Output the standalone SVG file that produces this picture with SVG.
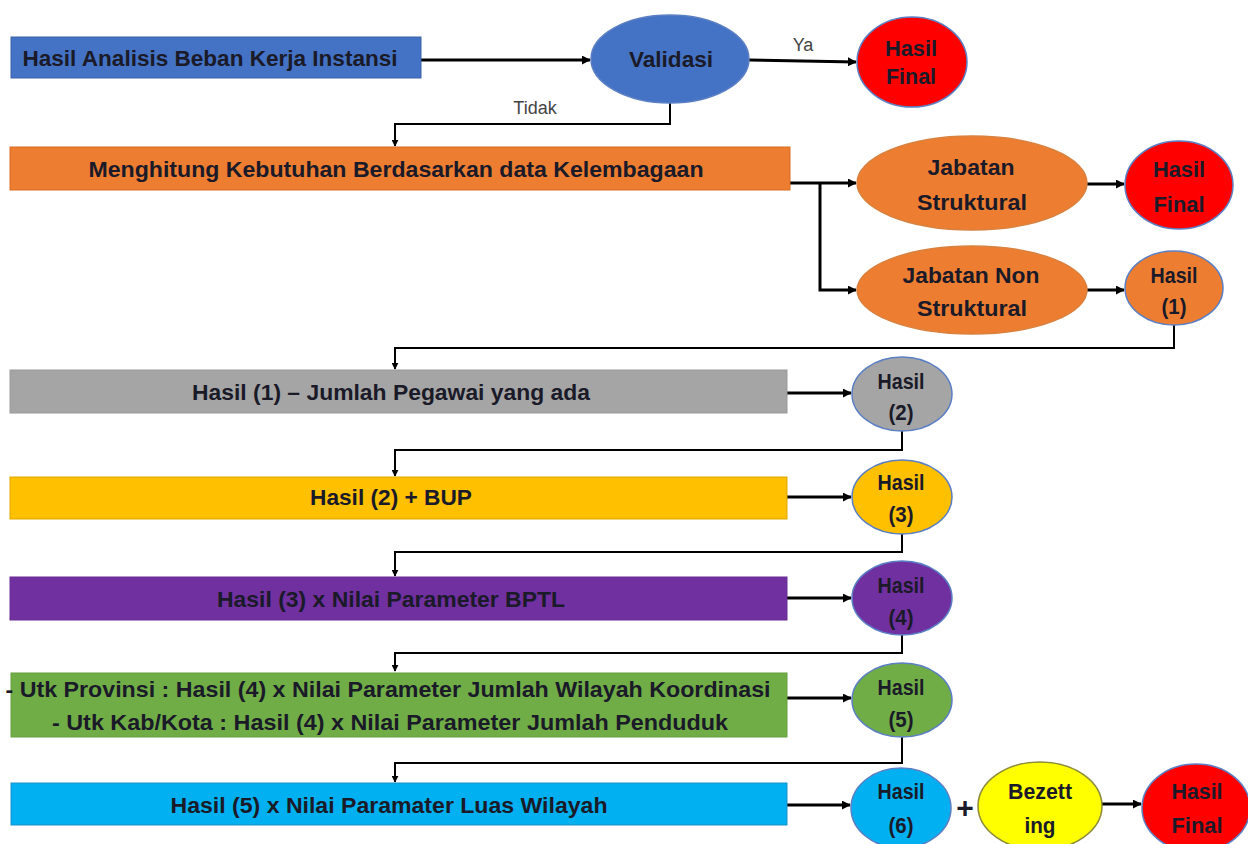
<svg xmlns="http://www.w3.org/2000/svg" width="1248" height="844" viewBox="0 0 1248 844">
<defs>
<marker id="ah" viewBox="0 0 10 10" refX="9" refY="5" markerWidth="9" markerHeight="9" markerUnits="userSpaceOnUse" orient="auto"><path d="M0,0 L10,5 L0,10 z" fill="#000"/></marker>
<marker id="ahs" viewBox="0 0 10 10" refX="9" refY="5" markerWidth="7" markerHeight="7" markerUnits="userSpaceOnUse" orient="auto"><path d="M0,0 L10,5 L0,10 z" fill="#000"/></marker>
<style>
text{font-family:"Liberation Sans",Arial,sans-serif;font-weight:bold;fill:#1a1a28;text-anchor:middle;dominant-baseline:central}
.lbl{font-weight:normal;fill:#444;font-size:18px}
.bx{font-size:22px}
.nd{font-size:22px}
.main{stroke:#000;stroke-width:3;fill:none;marker-end:url(#ah)}
.elb{stroke:#000;stroke-width:2;fill:none;marker-end:url(#ahs)}
.circ{stroke:#5b7fc4;stroke-width:1.5}
</style>
</defs>
<rect width="1248" height="844" fill="#fff"/>

<g id="connectors">
<path class="main" d="M420,60 H590"/>
<path class="main" d="M749,60 L856,62"/>
<path class="elb" d="M670,103 V124 H395 V146"/>
<path class="main" d="M790,183 H856"/>
<path class="main" d="M820,183 V290 H856"/>
<path class="main" d="M1087,184 H1124"/>
<path class="main" d="M1087,290 H1124"/>
<path class="elb" d="M1174,325 V348 H395 V369"/>
<path class="main" d="M787,393 H851"/>
<path class="elb" d="M902,431 V450 H395 V476"/>
<path class="main" d="M787,497 H851"/>
<path class="elb" d="M902,534 V552 H395 V576"/>
<path class="main" d="M787,598 H851"/>
<path class="elb" d="M902,635 V653 H395 V671"/>
<path class="main" d="M787,698 H851"/>
<path class="elb" d="M902,737 V763 H395 V782"/>
<path class="main" d="M787,805 H850"/>
<path class="main" d="M1102,804 H1141"/>
<text class="lbl" x="803" y="45">Ya</text>
<text class="lbl" x="535" y="108">Tidak</text>
</g>

<g id="n-analisis"><rect x="11" y="37" width="410" height="41" fill="#4472C4" stroke="#3a62a8"/><text class="bx" x="210" y="58" textLength="375" lengthAdjust="spacingAndGlyphs">Hasil Analisis Beban Kerja Instansi</text></g>
<g id="n-validasi"><ellipse cx="670" cy="59" rx="79" ry="44" fill="#4472C4" class="circ"/><text class="nd" x="671" y="59" textLength="84" lengthAdjust="spacingAndGlyphs">Validasi</text></g>
<g id="n-final1"><ellipse cx="912" cy="62" rx="55" ry="45" fill="#FF0000" class="circ"/><text class="nd" x="911" y="48" textLength="52" lengthAdjust="spacingAndGlyphs">Hasil</text><text class="nd" x="911" y="76" textLength="50" lengthAdjust="spacingAndGlyphs">Final</text></g>

<g id="n-kelembagaan"><rect x="10" y="147" width="780" height="43" fill="#ED7D31" stroke="#d66c25"/><text class="bx" x="396" y="169" textLength="615" lengthAdjust="spacingAndGlyphs">Menghitung Kebutuhan  Berdasarkan data Kelembagaan</text></g>
<g id="n-struktural"><ellipse cx="972" cy="183" rx="115" ry="47" fill="#ED7D31" stroke="#d9813e" stroke-width="1.5"/><text class="nd" x="971" y="167" textLength="87" lengthAdjust="spacingAndGlyphs">Jabatan</text><text class="nd" x="972" y="202" textLength="110" lengthAdjust="spacingAndGlyphs">Struktural</text></g>
<g id="n-final2"><ellipse cx="1179" cy="185" rx="54" ry="44" fill="#FF0000" class="circ"/><text class="nd" x="1179" y="169" textLength="52" lengthAdjust="spacingAndGlyphs">Hasil</text><text class="nd" x="1179" y="204" textLength="51" lengthAdjust="spacingAndGlyphs">Final</text></g>
<g id="n-nonstruktural"><ellipse cx="972" cy="290" rx="115" ry="44" fill="#ED7D31" stroke="#d9813e" stroke-width="1.5"/><text class="nd" x="971" y="275" textLength="137" lengthAdjust="spacingAndGlyphs">Jabatan Non</text><text class="nd" x="972" y="308" textLength="110" lengthAdjust="spacingAndGlyphs">Struktural</text></g>
<g id="n-hasil1"><ellipse cx="1174" cy="288" rx="49" ry="37" fill="#ED7D31" class="circ"/><text class="nd" x="1174" y="275" textLength="47" lengthAdjust="spacingAndGlyphs">Hasil</text><text class="nd" x="1174" y="306" textLength="25" lengthAdjust="spacingAndGlyphs">(1)</text></g>

<g id="n-pegawai"><rect x="10" y="370" width="777" height="43" fill="#A5A5A5" stroke="#999"/><text class="bx" x="391" y="392" textLength="398" lengthAdjust="spacingAndGlyphs">Hasil (1) – Jumlah Pegawai yang ada</text></g>
<g id="n-hasil2"><ellipse cx="902" cy="394" rx="50" ry="37" fill="#A5A5A5" class="circ"/><text class="nd" x="901" y="381" textLength="47" lengthAdjust="spacingAndGlyphs">Hasil</text><text class="nd" x="901" y="412" textLength="25" lengthAdjust="spacingAndGlyphs">(2)</text></g>

<g id="n-bup"><rect x="10" y="477" width="777" height="42" fill="#FFC000" stroke="#e0a800"/><text class="bx" x="391" y="497" textLength="162" lengthAdjust="spacingAndGlyphs">Hasil (2) + BUP</text></g>
<g id="n-hasil3"><ellipse cx="902" cy="497" rx="50" ry="37" fill="#FFC000" class="circ"/><text class="nd" x="901" y="482" textLength="47" lengthAdjust="spacingAndGlyphs">Hasil</text><text class="nd" x="901" y="514" textLength="25" lengthAdjust="spacingAndGlyphs">(3)</text></g>

<g id="n-bptl"><rect x="10" y="577" width="777" height="43" fill="#7030A0" stroke="#6a2c96"/><text class="bx" x="391" y="599" textLength="348" lengthAdjust="spacingAndGlyphs">Hasil (3) x Nilai Parameter BPTL</text></g>
<g id="n-hasil4"><ellipse cx="902" cy="598" rx="50" ry="37" fill="#7030A0" class="circ"/><text class="nd" x="901" y="585" textLength="47" lengthAdjust="spacingAndGlyphs">Hasil</text><text class="nd" x="901" y="617" textLength="25" lengthAdjust="spacingAndGlyphs">(4)</text></g>

<g id="n-wilayah"><rect x="11" y="673" width="776" height="64" fill="#70AD47" stroke="#64a03e"/><text class="bx" x="388" y="689" textLength="765" lengthAdjust="spacingAndGlyphs">- Utk Provinsi : Hasil (4) x Nilai Parameter Jumlah Wilayah Koordinasi</text><text class="bx" x="390" y="722" textLength="676" lengthAdjust="spacingAndGlyphs">- Utk Kab/Kota : Hasil (4) x Nilai Parameter Jumlah Penduduk</text></g>
<g id="n-hasil5"><ellipse cx="902" cy="700" rx="50" ry="37" fill="#70AD47" class="circ"/><text class="nd" x="901" y="687" textLength="47" lengthAdjust="spacingAndGlyphs">Hasil</text><text class="nd" x="901" y="719" textLength="25" lengthAdjust="spacingAndGlyphs">(5)</text></g>

<g id="n-luas"><rect x="11" y="783" width="776" height="42" fill="#00B0F0" stroke="#1a8fc8"/><text class="bx" x="389" y="805" textLength="437" lengthAdjust="spacingAndGlyphs">Hasil (5) x Nilai Paramater Luas Wilayah</text></g>
<g id="n-hasil6"><ellipse cx="901" cy="808" rx="50" ry="40" fill="#00B0F0" class="circ"/><text class="nd" x="901" y="791" textLength="47" lengthAdjust="spacingAndGlyphs">Hasil</text><text class="nd" x="901" y="825" textLength="25" lengthAdjust="spacingAndGlyphs">(6)</text></g>
<text x="965" y="807" style="font-size:30px">+</text>
<g id="n-bezetting"><ellipse cx="1040" cy="806" rx="62" ry="44" fill="#FFFF00" stroke="#8a8a3a" stroke-width="1.5"/><text class="nd" x="1040" y="791" textLength="64" lengthAdjust="spacingAndGlyphs">Bezett</text><text class="nd" x="1040" y="825" textLength="31" lengthAdjust="spacingAndGlyphs">ing</text></g>
<g id="n-final3"><ellipse cx="1196" cy="808" rx="54" ry="44" fill="#FF0000" class="circ"/><text class="nd" x="1197" y="791" textLength="51" lengthAdjust="spacingAndGlyphs">Hasil</text><text class="nd" x="1197" y="825" textLength="51" lengthAdjust="spacingAndGlyphs">Final</text></g>
</svg>
